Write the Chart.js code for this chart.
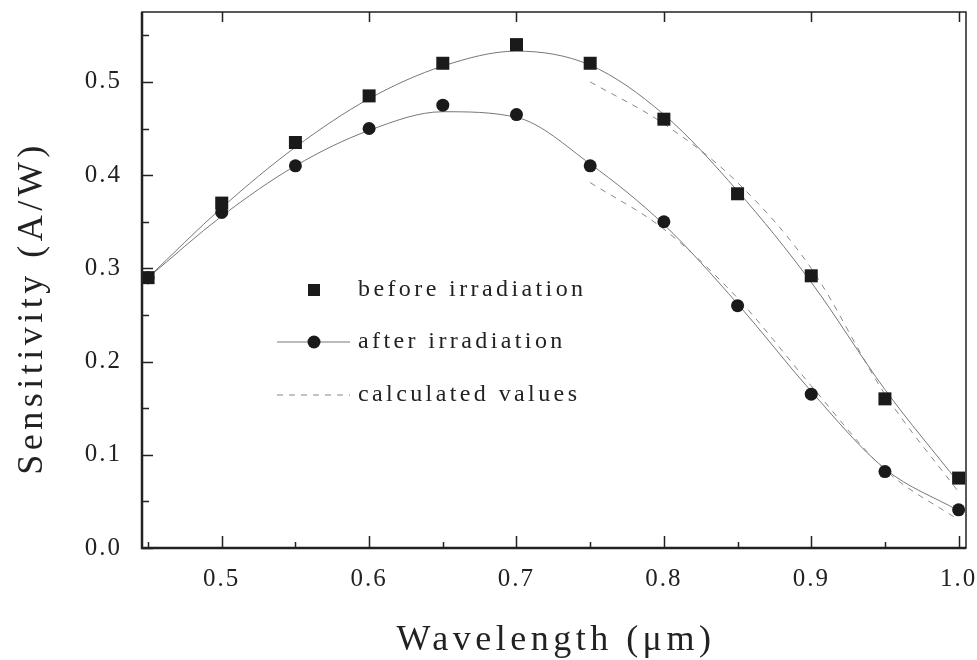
<!DOCTYPE html>
<html>
<head>
<meta charset="utf-8">
<script src="https://cdn.jsdelivr.net/npm/chart.js@4.4.1/dist/chart.umd.min.js"></script>
<style>
  html, body { margin: 0; padding: 0; background: #fff; }
  #wrap { width: 977px; height: 660px; position: relative; }
</style>
</head>
<body>
<div id="wrap"><canvas id="chart"></canvas></div>
<script>
// measured points
const wavelengths = [0.45, 0.5, 0.55, 0.6, 0.65, 0.7, 0.75, 0.8, 0.85, 0.9, 0.95, 1.0];
const beforeIrr = [0.29, 0.37, 0.435, 0.485, 0.52, 0.54, 0.52, 0.46, 0.38, 0.292, 0.16, 0.075];
const afterIrr = [0.29, 0.36, 0.41, 0.45, 0.475, 0.465, 0.41, 0.35, 0.26, 0.165, 0.082, 0.041];

// fitted curves
const beforeFit = [0.29, 0.365, 0.43, 0.482, 0.517, 0.533, 0.518, 0.465, 0.383, 0.285, 0.17, 0.07];
const afterFit = [0.29, 0.356, 0.41, 0.448, 0.468, 0.462, 0.412, 0.347, 0.262, 0.168, 0.085, 0.04];

// calculated values (dashed lines)
const calcWavelengths = [0.75, 0.8, 0.85, 0.9, 0.95, 1.0];
const beforeCalc = [0.50, 0.455, 0.392, 0.30, 0.165, 0.06];
const afterCalc = [0.392, 0.342, 0.268, 0.174, 0.084, 0.03];

const xTicks = [0.5, 0.6, 0.7, 0.8, 0.9, 1.0];
const xMinorTicks = [0.45, 0.55, 0.65, 0.75, 0.85, 0.95];
const yTicks = [0.0, 0.1, 0.2, 0.3, 0.4, 0.5];
const yMinorTicks = [0.05, 0.15, 0.25, 0.35, 0.45, 0.55];

const legendLabels = ["before irradiation", "after irradiation", "calculated values"];
const xTitle = "Wavelength (\u03bcm)";
const yTitle = "Sensitivity (A/W)";

const SERIF = "'Liberation Serif', 'Times New Roman', serif";

const toXY = (xs, ys) => xs.map((x, i) => ({ x: x, y: ys[i] }));

// no extra room for edge tick labels, the plot box is set by layout.padding
const noEdgePadding = (s) => {
  s.paddingTop = 0; s.paddingBottom = 0; s.paddingLeft = 0; s.paddingRight = 0;
};

// frame, tick marks, titles and legend
const decorations = {
  id: "decorations",
  beforeDraw(chart) {
    chart.ctx.letterSpacing = "2px";
  },
  afterDraw(chart) {
    const ctx = chart.ctx;
    const a = chart.chartArea;
    const xs = chart.scales.x;
    const ys = chart.scales.y;
    ctx.save();
    ctx.strokeStyle = "#222";
    ctx.lineCap = "butt";

    // frame
    ctx.lineWidth = 1.5;
    ctx.strokeRect(a.left, a.top, a.right - a.left, a.bottom - a.top);
    ctx.lineWidth = 2.5;
    ctx.beginPath();
    ctx.moveTo(a.left, a.top);
    ctx.lineTo(a.left, a.bottom);
    ctx.lineTo(a.right, a.bottom);
    ctx.stroke();

    // ticks pointing inward
    ctx.lineWidth = 1.5;
    ctx.beginPath();
    xTicks.forEach((v) => {
      const px = Math.round(xs.getPixelForValue(v)) + 0.5;
      ctx.moveTo(px, a.bottom); ctx.lineTo(px, a.bottom - 12);
      ctx.moveTo(px, a.top); ctx.lineTo(px, a.top + 10);
    });
    xMinorTicks.forEach((v) => {
      const px = Math.round(xs.getPixelForValue(v)) + 0.5;
      ctx.moveTo(px, a.bottom); ctx.lineTo(px, a.bottom - 6);
    });
    yTicks.forEach((v) => {
      const py = Math.round(ys.getPixelForValue(v)) + 0.5;
      ctx.moveTo(a.left, py); ctx.lineTo(a.left + 11, py);
    });
    yMinorTicks.forEach((v) => {
      const py = Math.round(ys.getPixelForValue(v)) + 0.5;
      ctx.moveTo(a.left, py); ctx.lineTo(a.left + 7, py);
    });
    ctx.stroke();

    // axis titles
    ctx.fillStyle = "#222";
    ctx.font = "36px " + SERIF;
    ctx.letterSpacing = "4.5px";
    ctx.textAlign = "center";
    ctx.textBaseline = "alphabetic";
    ctx.fillText(xTitle, (a.left + a.right) / 2 + 2, 650);
    ctx.save();
    ctx.translate(42, 308);
    ctx.rotate(-Math.PI / 2);
    ctx.fillText(yTitle, 0, 0);
    ctx.restore();

    // legend inside the plot
    const rows = [290, 342, 395];
    const ds = chart.data.datasets;
    ctx.font = "24px " + SERIF;
    ctx.letterSpacing = "3.4px";
    ctx.textAlign = "left";
    ctx.textBaseline = "middle";
    legendLabels.forEach((t, i) => ctx.fillText(t, 358, rows[i]));

    ctx.fillStyle = "#1a1a1a";
    ctx.fillRect(308, rows[0] - 6, 12, 12);

    ctx.strokeStyle = ds[3].borderColor;
    ctx.lineWidth = 1;
    ctx.beginPath();
    ctx.moveTo(277, rows[1]); ctx.lineTo(350, rows[1]);
    ctx.stroke();
    ctx.beginPath();
    ctx.arc(314, rows[1], 6.5, 0, Math.PI * 2);
    ctx.fill();

    ctx.strokeStyle = ds[4].borderColor;
    ctx.setLineDash(ds[4].borderDash);
    ctx.beginPath();
    ctx.moveTo(277, rows[2]); ctx.lineTo(350, rows[2]);
    ctx.stroke();
    ctx.restore();
  }
};

const lineStyle = {
  showLine: true,
  pointRadius: 0,
  borderWidth: 1,
  cubicInterpolationMode: "monotone",
  fill: false,
};

new Chart(document.getElementById("chart").getContext("2d"), {
  type: "scatter",
  data: {
    datasets: [
      {
        label: "before irradiation",
        data: toXY(wavelengths, beforeIrr),
        pointStyle: "rect",
        pointRadius: 9.2,
        backgroundColor: "#1a1a1a",
        borderColor: "#1a1a1a",
        borderWidth: 0,
        order: 0,
      },
      {
        label: "after irradiation",
        data: toXY(wavelengths, afterIrr),
        pointStyle: "circle",
        pointRadius: 6.5,
        backgroundColor: "#1a1a1a",
        borderColor: "#1a1a1a",
        borderWidth: 0,
        order: 0,
      },
      { ...lineStyle, label: "fit before", data: toXY(wavelengths, beforeFit), borderColor: "#777", order: 1 },
      { ...lineStyle, label: "fit after", data: toXY(wavelengths, afterFit), borderColor: "#777", order: 1 },
      { ...lineStyle, label: "calculated before", data: toXY(calcWavelengths, beforeCalc), borderColor: "#888", borderDash: [6, 6], order: 2 },
      { ...lineStyle, label: "calculated after", data: toXY(calcWavelengths, afterCalc), borderColor: "#888", borderDash: [6, 6], order: 2 },
    ],
  },
  options: {
    responsive: true,
    maintainAspectRatio: false,
    animation: false,
    layout: { padding: { top: 12, right: 11, left: 0, bottom: 0 } },
    plugins: {
      legend: { display: false },
      tooltip: { enabled: false },
    },
    scales: {
      x: {
        type: "linear",
        min: 0.4459,
        max: 1.005,
        grid: { display: false },
        border: { display: false },
        afterBuildTicks: (s) => { s.ticks = xTicks.map((v) => ({ value: v })); },
        afterFit: (s) => { s.height = 112; noEdgePadding(s); },
        ticks: {
          color: "#222",
          padding: 8,
          maxRotation: 0,
          font: { size: 25, family: SERIF },
          callback: (v) => Number(v).toFixed(1),
        },
      },
      y: {
        min: 0,
        max: 0.575,
        grid: { display: false },
        border: { display: false },
        afterBuildTicks: (s) => { s.ticks = yTicks.map((v) => ({ value: v })); },
        afterFit: (s) => { s.width = 142; noEdgePadding(s); },
        ticks: {
          color: "#222",
          padding: 12,
          font: { size: 25, family: SERIF },
          callback: (v) => Number(v).toFixed(1),
        },
      },
    },
  },
  plugins: [decorations],
});
</script>
</body>
</html>
